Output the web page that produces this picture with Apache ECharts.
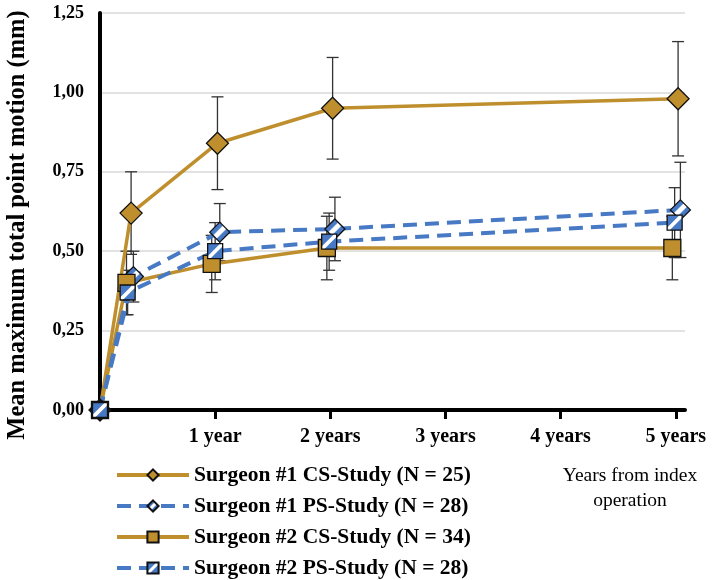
<!DOCTYPE html>
<html>
<head>
<meta charset="utf-8">
<script src="https://cdn.jsdelivr.net/npm/echarts@6/dist/echarts.min.js"></script>
<style>html,body{margin:0;padding:0;background:#fff;}#c{width:715px;height:580px;}</style>
</head>
<body>
<div id="c"></div>
<script>
// ---- data ----
const seriesNames = [
  'Surgeon #1 CS-Study (N = 25)',
  'Surgeon #1 PS-Study (N = 28)',
  'Surgeon #2 CS-Study (N = 34)',
  'Surgeon #2 PS-Study (N = 28)'
];
const xTickValues = [1, 2, 3, 4, 5];
const xTickLabels = ['1 year', '2 years', '3 years', '4 years', '5 years'];
const yAxisTitle = 'Mean maximum total point motion (mm)';
const xAxisTitle = 'Years from index\noperation';

const yearsS1CS = [0, 0.27, 1.02, 2.02, 5.02];
const yearsS1PS = [0, 0.29, 1.04, 2.04, 5.04];
const yearsS2CS = [0, 0.23, 0.97, 1.97, 4.97];
const yearsS2PS = [0, 0.24, 1.00, 1.99, 4.99];

const meanS1CS = [0, 0.62, 0.84, 0.95, 0.98];
const meanS1PS = [0, 0.42, 0.56, 0.57, 0.63];
const meanS2CS = [0, 0.40, 0.46, 0.51, 0.51];
const meanS2PS = [0, 0.37, 0.50, 0.53, 0.59];

const errS1CS = [0, 0.13, 0.146, 0.16, 0.18];
const errS1PS = [0, 0.08, 0.09, 0.10, 0.15];
const errS2CS = [0, 0.10, 0.09, 0.10, 0.10];
const errS2PS = [0, 0.07, 0.09, 0.09, 0.11];

// ---- styling ----
const GOLD = '#BF8F2E';
const BLUE = '#4779C4';
const SERIF = '"Liberation Serif", "DejaVu Serif", serif';
const stripe = {
  type: 'linear', x: 0, y: 0, x2: 1, y2: 1,
  colorStops: [
    {offset: 0, color: BLUE}, {offset: 0.40, color: BLUE},
    {offset: 0.44, color: '#ffffff'}, {offset: 0.56, color: '#ffffff'},
    {offset: 0.60, color: BLUE}, {offset: 1, color: BLUE}
  ]
};

function pts(xs, ys) { return xs.map((x, i) => [x, ys[i]]); }
function bars(xs, ys, es) {
  return xs.map((x, i) => [x, ys[i] - es[i], ys[i] + es[i]]).filter((d, i) => es[i] > 0);
}
function errSeries(data) {
  return {
    type: 'custom', z: 1, silent: true,
    data: data,
    encode: {x: 0, y: [1, 2]},
    renderItem: function (params, api) {
      const lo = api.coord([api.value(0), api.value(1)]);
      const hi = api.coord([api.value(0), api.value(2)]);
      const hw = 6;
      const st = {stroke: '#333333', lineWidth: 1.3};
      return {
        type: 'group', children: [
          {type: 'line', shape: {x1: lo[0], y1: lo[1], x2: hi[0], y2: hi[1]}, style: st},
          {type: 'line', shape: {x1: lo[0] - hw, y1: lo[1], x2: lo[0] + hw, y2: lo[1]}, style: st},
          {type: 'line', shape: {x1: hi[0] - hw, y1: hi[1], x2: hi[0] + hw, y2: hi[1]}, style: st}
        ]
      };
    }
  };
}
function lineSeries(name, data, color, dashed, symbol, size, fill) {
  return {
    name: name, type: 'line', z: 3, data: data,
    symbol: symbol, symbolSize: size,
    lineStyle: {color: color, width: dashed ? 4 : 3.5, type: dashed ? [14, 8] : 'solid'},
    itemStyle: {color: fill, borderColor: '#111111', borderWidth: 1.3},
    emphasis: {disabled: true},
    animation: false
  };
}

const chart = echarts.init(document.getElementById('c'), null, {renderer: 'canvas'});
chart.setOption({
  animation: false,
  grid: {left: 100, right: 30, top: 13, bottom: 170, containLabel: false, outerBoundsMode: 'none'},
  xAxis: {
    type: 'value', min: 0, max: 5.08,
    axisLine: {show: true, lineStyle: {color: '#000', width: 4}},
    axisTick: {show: true, length: 9, inside: false, lineStyle: {color: '#000', width: 3}, customValues: xTickValues},
    axisLabel: {
      customValues: xTickValues, margin: 17,
      formatter: function (v) { const i = xTickValues.indexOf(v); return i >= 0 ? xTickLabels[i] : ''; },
      fontFamily: SERIF, fontWeight: 'bold', fontSize: 20, color: '#000'
    },
    splitLine: {show: false}
  },
  yAxis: {
    type: 'value', min: 0, max: 1.25, interval: 0.25,
    axisLine: {show: true, lineStyle: {color: '#000', width: 4}},
    axisTick: {show: false},
    axisLabel: {
      margin: 16, fontFamily: SERIF, fontWeight: 'bold', fontSize: 18, color: '#000',
      formatter: function (v) { return v.toFixed(2).replace('.', ','); }
    },
    splitLine: {show: true, lineStyle: {color: '#d9d9d9', width: 1.5}}
  },
  legend: {
    orient: 'vertical', left: 115, top: 464, height: 140, padding: 0,
    itemWidth: 72, itemHeight: 14, itemGap: 9,
    data: seriesNames,
    lineStyle: {width: 4},
    textStyle: {fontFamily: SERIF, fontWeight: 'bold', fontSize: 21.5, color: '#000', lineHeight: 21},
    selectedMode: false
  },
  graphic: [{
    type: 'text', x: 630, y: 463, silent: true,
    style: {
      text: xAxisTitle, textAlign: 'center', textVerticalAlign: 'top',
      fontFamily: SERIF, fontSize: 19.5, lineHeight: 25, fill: '#000'
    }
  }, {
    type: 'text', x: 18, y: 225, rotation: Math.PI / 2, silent: true,
    style: {
      text: yAxisTitle, textAlign: 'center', textVerticalAlign: 'middle',
      fontFamily: SERIF, fontWeight: 'bold', fontSize: 24.5, fill: '#000'
    }
  }],
  series: [
    errSeries(bars(yearsS1CS, meanS1CS, errS1CS)),
    errSeries(bars(yearsS1PS, meanS1PS, errS1PS)),
    errSeries(bars(yearsS2CS, meanS2CS, errS2CS)),
    errSeries(bars(yearsS2PS, meanS2PS, errS2PS)),
    lineSeries(seriesNames[0], pts(yearsS1CS, meanS1CS), GOLD, false, 'diamond', [22, 22], GOLD),
    lineSeries(seriesNames[1], pts(yearsS1PS, meanS1PS), BLUE, true, 'diamond', [20, 20], stripe),
    lineSeries(seriesNames[2], pts(yearsS2CS, meanS2CS), GOLD, false, 'rect', [17, 17], GOLD),
    lineSeries(seriesNames[3], pts(yearsS2PS, meanS2PS), BLUE, true, 'rect', [15, 15], stripe)
  ]
});
</script>
</body>
</html>
